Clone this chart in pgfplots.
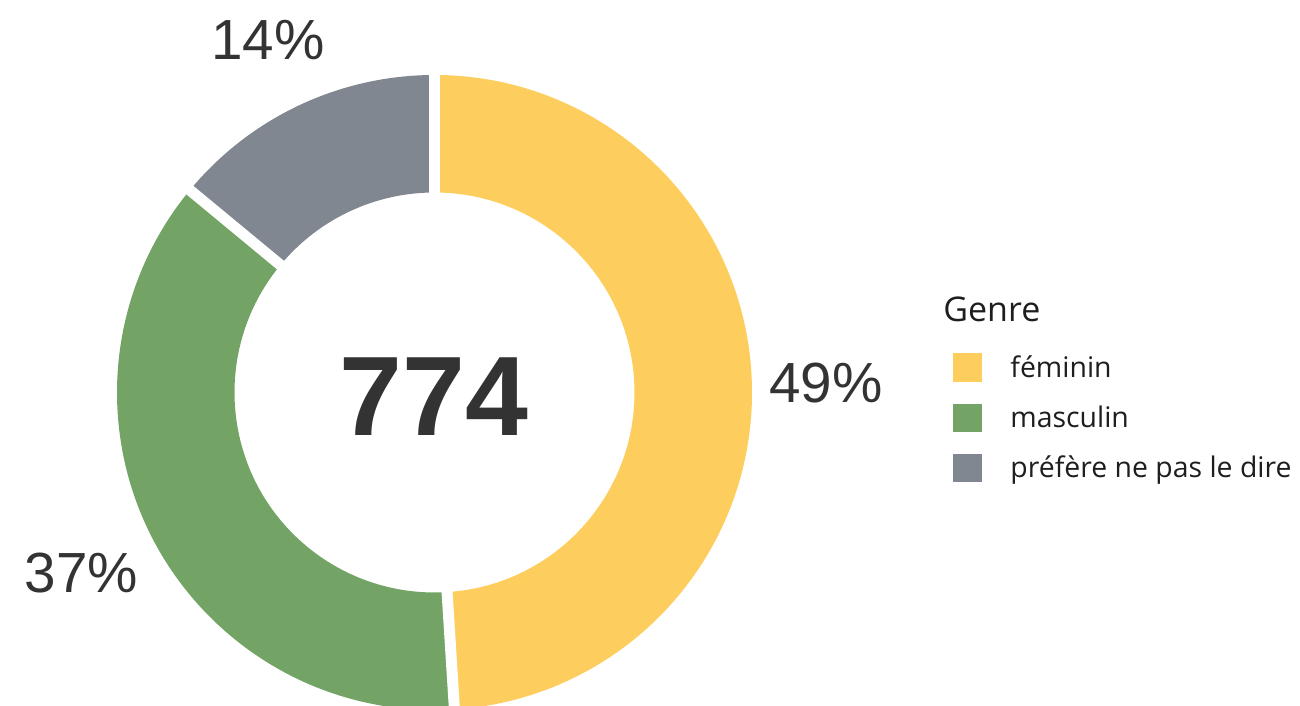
\documentclass[border=0pt]{standalone}
\usepackage{pgfplots}
\pgfplotsset{compat=1.18}
\usepackage{pgfplotstable}
\usepackage{fontspec}
\setmainfont{Liberation Sans}
\newfontfamily\legfont{Open Sans}
\definecolor{cfem}{HTML}{FDCE5D}
\definecolor{cmas}{HTML}{73A465}
\definecolor{cpref}{HTML}{818790}
\definecolor{ctxt}{HTML}{333333}
\definecolor{cleg}{HTML}{1E1E1E}

% shares in percent, clockwise from 12 o'clock
\pgfplotstableread{
share col
49 cfem
37 cmas
14 cpref
}\genretable

\begin{document}
\begin{tikzpicture}
\useasboundingbox (0,0) rectangle (650pt,353pt);
\begin{axis}[
  at={(0,0)}, anchor=south west,
  scale only axis, width=650pt, height=353pt,
  xmin=0, xmax=1300, ymin=0, ymax=706,
  enlargelimits=false, hide axis, clip=false,
]
\pgfplotsextra{
  \gdef\astart{90}
  \foreach \i in {0,1,2} {
    \pgfplotstablegetelem{\i}{share}\of\genretable
    \pgfmathsetmacro\aend{\astart-3.6*\pgfplotsretval}
    \pgfplotstablegetelem{\i}{col}\of\genretable
    \edef\scol{\pgfplotsretval}
    \fill[\scol] (axis cs:434.5,313.5) ++(\astart:158.75pt)
      arc[start angle=\astart, end angle=\aend, radius=158.75pt]
      -- ++(\aend:-58.75pt)
      arc[start angle=\aend, end angle=\astart, radius=100pt] -- cycle;
    \xdef\astart{\aend}
  }
  \gdef\astart{90}
  \foreach \i in {0,1,2} {
    \pgfplotstablegetelem{\i}{share}\of\genretable
    \pgfmathsetmacro\aend{\astart-3.6*\pgfplotsretval}
    \draw[white, line width=5.5pt] (axis cs:434.5,313.5) ++(\astart:95pt) -- ++(\astart:70pt);
    \xdef\astart{\aend}
  }
}
% percentage labels
\node[anchor=base, text=ctxt, font=\fontsize{28.3pt}{30pt}\selectfont] at (axis cs:826,303) {49\%};
\node[anchor=base, text=ctxt, font=\fontsize{28.3pt}{30pt}\selectfont] at (axis cs:81.5,113) {37\%};
\node[anchor=base, text=ctxt, font=\fontsize{28.3pt}{30pt}\selectfont] at (axis cs:268,646) {14\%};
% center total
\node[anchor=base, text=ctxt, font=\fontsize{56.5pt}{60pt}\selectfont\bfseries] at (axis cs:434,270) {774};
% legend
\node[anchor=base west, inner sep=0pt, text=cleg, font=\legfont\fontsize{17pt}{20pt}\selectfont] at (axis cs:943,384) {Genre};
\fill[cfem] (axis cs:953,324) rectangle (axis cs:982,353);
\fill[cmas] (axis cs:953,274) rectangle (axis cs:982,302);
\fill[cpref] (axis cs:953,224) rectangle (axis cs:982,252);
\node[anchor=base west, inner sep=0pt, text=cleg, font=\legfont\fontsize{14.2pt}{16pt}\selectfont] at (axis cs:1010,328) {féminin};
\node[anchor=base west, inner sep=0pt, text=cleg, font=\legfont\fontsize{14.2pt}{16pt}\selectfont] at (axis cs:1010,278) {masculin};
\node[anchor=base west, inner sep=0pt, text=cleg, font=\legfont\fontsize{14.2pt}{16pt}\selectfont] at (axis cs:1010,228) {préfère ne pas le dire};
\end{axis}
\end{tikzpicture}
\end{document}
